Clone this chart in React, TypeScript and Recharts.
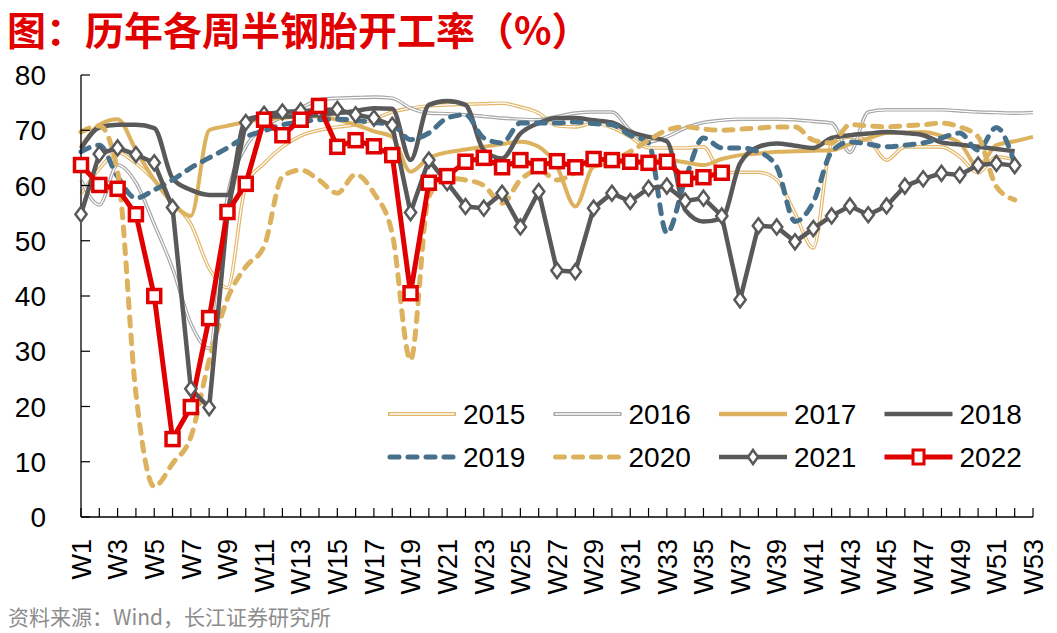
import { Line, LineChart, XAxis, YAxis } from 'recharts';

// Weekly semi-steel tyre operating rate (%).
const WEEKS = [
  'W1', 'W2', 'W3', 'W4', 'W5', 'W6', 'W7', 'W8', 'W9', 'W10',
  'W11', 'W12', 'W13', 'W14', 'W15', 'W16', 'W17', 'W18', 'W19', 'W20',
  'W21', 'W22', 'W23', 'W24', 'W25', 'W26', 'W27', 'W28', 'W29', 'W30',
  'W31', 'W32', 'W33', 'W34', 'W35', 'W36', 'W37', 'W38', 'W39', 'W40',
  'W41', 'W42', 'W43', 'W44', 'W45', 'W46', 'W47', 'W48', 'W49', 'W50',
  'W51', 'W52', 'W53',
];

const Y_TICKS = [0, 10, 20, 30, 40, 50, 60, 70, 80];

const S2015 = [
  58.5, 63, 66, 64, 61, 57, 53, 45, 41.5, 60,
  64, 67, 69, 70, 70.6, 71, 72, 73.3, 74, 74.4,
  74.6, 74.7, 74.8, 74.9, 74.2, 73.1, 70.8, 70.6, 71.3, 70.5,
  68.8, 66.8, 66.8, 66.8, 67, 62.3, 62.4, 62.4, 61, 55,
  48.7, 67.5, 68.8, 68.2, 64.6, 67, 67, 67, 65.2, 62.3,
  65.2, 64.6, null,
];
const S2016 = [
  61, 56.5, 63.7, 60.5, 53, 45, 35, 30.5, 58, 67,
  70.6, 72.4, 74, 75.5, 75.8, 75.9, 76, 75.8, 74, 73.1,
  73, 72.8, 72.5, 72.2, 72, 71.9, 72.5, 73.1, 73.3, 73.3,
  70, 67.9, 68.8, 70.4, 71.4, 71.8, 72, 72, 72, 71.9,
  71.6, 71.3, 66, 73.3, 73.7, 73.7, 73.7, 73.7, 73.5, 73.3,
  73.2, 73.1, 73.2,
];
const S2017 = [
  67, 71, 72, 66.4, 61, 56.8, 54.5, 70, 70.8, 71.5,
  72, 72.2, 72.5, 72.5, 71.9, 71, 69.8, 68.8, 62.5, 65,
  66, 66.5, 67, 67.5, 67.9, 67, 63.4, 56.2, 63.4, 64,
  64.3, 64.5, 64.6, 64.2, 63.7, 64.8, 65.5, 65.8, 66.1, 66.2,
  66.3, 66.4, 67.5, 68.5, 69.5, 69.6, 69.7, 69, 67.7, 63.4,
  67.3, 68, 68.8,
];
const S2018 = [
  66.7, 70.5, 71, 71, 70.4, 61.3, 59.2, 58.3, 58.3, 71.9,
  72.5, 72.5, 72.5, 72.8, 73.1, 73.5, 74, 73.9, 64.6, 74.6,
  75.3, 74.6, 66.4, 64.9, 69.4, 71.3, 72.2, 72.2, 71.8, 71.4,
  69.7, 68.8, 68, 55.6, 53.5, 54, 64, 67, 67.6, 67.2,
  66.8, 68.6, 69.1, 69.4, 69.7, 69.5, 69.1, 67.8, 67.4, 67,
  66.6, 66.2, null,
];
const S2019 = [
  66.1, 67.3, 61.6, 57.7, 59.2, 61, 63.2, 65, 66.8, 68.8,
  69.9, 71, 71.5, 71.9, 72, 71.8, 71.4, 71, 68.3, 69.5,
  72.2, 72.8, 68.6, 67.7, 71.3, 71.3, 71.3, 71.5, 71.2, 71,
  69.1, 67.7, 51.4, 61, 68.6, 66.8, 66.8, 66.1, 63.4, 53.5,
  57, 66.1, 67.9, 67.5, 67, 67.3, 67.7, 68.6, 69.5, 66.4,
  70.5, 64, null,
];
const S2020 = [
  69.7, 70.8, 62.5, 22.4, 5.5, 9.7, 14.5, 28.4, 39.5, 45.3,
  49, 61.6, 62.8, 61, 58.6, 62, 58.6, 51.3, 28.4, 58,
  61.3, 61, 60, 56.8, 61, 62.8, 61, 62.3, 64, 64.6,
  66.1, 68.2, 70, 70.6, 70.2, 70, 70.2, 70.4, 70.6, 70.6,
  68.2, 67.7, 71, 70.8, 70.6, 70.8, 71, 71.3, 70.6, 68.8,
  59.8, 57.4, null,
];
const S2021 = [
  54.8, 65.7, 66.8, 65.6, 64.1, 56, 23.2, 19.8, 55, 71.4,
  72.9, 73.3, 73.5, 73.6, 73.8, 72.8, 72.2, 70.9, 55.1, 64.6,
  60.5, 56.2, 55.9, 58.6, 52.5, 58.9, 44.6, 44.4, 55.9, 58.6,
  57.1, 59.5, 59.9, 57.2, 57.7, 54.5, 39.3, 52.7, 52.5, 49.8,
  52.2, 54.5, 56.3, 54.7, 56.3, 59.9, 61.2, 62.2, 61.9, 63.7,
  64, 63.6, null,
];
const S2022 = [
  63.7, 60.1, 59.4, 54.8, 40, 14.1, 19.9, 36, 55.2, 60.3,
  71.9, 69.1, 71.9, 74.4, 67, 68.2, 67.1, 65.5, 40.5, 60.5,
  61.7, 64.3, 65, 63.3, 64.6, 63.5, 64.4, 63.3, 64.8, 64.6,
  64.3, 64.1, 64.3, 61.2, 61.5, 62.3, null, null, null, null,
  null, null, null, null, null, null, null, null, null, null,
  null, null, null,
];

const GOLD_LIGHT = '#E2B76A';
const GOLD = '#DDB25F';
const GREY = '#A6A6A6';
const DARK = '#595959';
const BLUE = '#46708C';
const RED = '#E00000';
const FONT = '"Liberation Sans", Arial, sans-serif';
const CJK = '"Noto Sans CJK SC", sans-serif';

const data = WEEKS.map((week, i) => ({
  week,
  y2015: S2015[i],
  y2016: S2016[i],
  y2017: S2017[i],
  y2018: S2018[i],
  y2019: S2019[i],
  y2020: S2020[i],
  y2021: S2021[i],
  y2022: S2022[i],
}));

function WeekTick({ x, y, payload }: any) {
  const n = Number(String(payload.value).slice(1));
  return (
    <g>
      <line x1={x} y1={y} x2={x} y2={y - 9} stroke="#000" strokeWidth={1.2} />
      {n % 2 === 1 && (
        <text
          transform={`translate(${x},${y + 22}) rotate(-90)`}
          dy="0.36em"
          textAnchor="end"
          fontSize={27}
          fontFamily={FONT}
          fill="#000"
        >
          {payload.value}
        </text>
      )}
    </g>
  );
}

function ValueTick({ x, y, payload }: any) {
  return (
    <g>
      <line x1={x} y1={y} x2={x + 9} y2={y} stroke="#000" strokeWidth={1.2} />
      <text x={x - 35} y={y} dy="0.36em" textAnchor="end" fontSize={28} fontFamily={FONT} fill="#000">
        {payload.value}
      </text>
    </g>
  );
}

function Diamond({ cx, cy, index }: any) {
  if (cx == null || cy == null) return <g key={`d${index}`} />;
  const r = 7.5;
  return (
    <path
      key={`d${index}`}
      d={`M${cx},${cy - r}L${cx + r * 0.75},${cy}L${cx},${cy + r}L${cx - r * 0.75},${cy}Z`}
      fill="#fff"
      stroke={DARK}
      strokeWidth={2.5}
    />
  );
}

function Square({ cx, cy, index }: any) {
  if (cx == null || cy == null) return <g key={`s${index}`} />;
  return (
    <rect key={`s${index}`} x={cx - 6.5} y={cy - 6.5} width={13} height={13} fill="#fff" stroke={RED} strokeWidth={3.5} />
  );
}

// legend drawn by hand: two rows of four, inside the plot area
const LEGEND = [
  { name: '2015', kind: 'double', color: GOLD_LIGHT },
  { name: '2016', kind: 'double', color: GREY },
  { name: '2017', kind: 'solid', color: GOLD },
  { name: '2018', kind: 'solid', color: DARK },
  { name: '2019', kind: 'dash', color: BLUE },
  { name: '2020', kind: 'dash', color: GOLD },
  { name: '2021', kind: 'diamond', color: DARK },
  { name: '2022', kind: 'square', color: RED },
];

function LegendSample({ kind, color, x, y }: { kind: string; color: string; x: number; y: number }) {
  const x2 = x + 68;
  const mid = x + 34;
  if (kind === 'double') {
    return (
      <g>
        <line x1={x} y1={y} x2={x2} y2={y} stroke={color} strokeWidth={4} />
        <line x1={x + 1.5} y1={y} x2={x2 - 1.5} y2={y} stroke="#fff" strokeWidth={1.3} />
      </g>
    );
  }
  if (kind === 'dash') {
    return (
      <line x1={x + 2} y1={y} x2={x2} y2={y} stroke={color} strokeWidth={5} strokeDasharray="9 9" strokeLinecap="round" />
    );
  }
  if (kind === 'diamond') {
    return (
      <g>
        <line x1={x} y1={y} x2={x2} y2={y} stroke={color} strokeWidth={4.5} />
        <path d={`M${mid},${y - 7}L${mid + 5},${y}L${mid},${y + 7}L${mid - 5},${y}Z`} fill="#fff" stroke={color} strokeWidth={2.5} />
      </g>
    );
  }
  if (kind === 'square') {
    return (
      <g>
        <line x1={x} y1={y} x2={x2} y2={y} stroke={color} strokeWidth={5} />
        <rect x={mid - 5.5} y={y - 7} width={11} height={14} fill="#fff" stroke={color} strokeWidth={3} />
      </g>
    );
  }
  return <line x1={x} y1={y} x2={x2} y2={y} stroke={color} strokeWidth={4.5} />;
}

export default function App() {
  return (
    <div style={{ position: 'absolute', left: 0, top: 0, width: 1057, height: 633, background: '#fff' }}>
      <div style={{ position: 'absolute', left: 0, top: 0 }}>
        <LineChart width={1057} height={633} data={data} margin={{ top: 75, right: 24, bottom: 26, left: 21 }}>
          <XAxis
            dataKey="week"
            scale="point"
            interval={0}
            height={90}
            tickSize={0}
            tickMargin={0}
            tickLine={false}
            tick={<WeekTick />}
            axisLine={{ stroke: '#000', strokeWidth: 1.3 }}
          />
          <YAxis
            domain={[0, 80]}
            ticks={Y_TICKS}
            interval={0}
            width={60}
            tickSize={0}
            tickMargin={0}
            tickLine={false}
            tick={<ValueTick />}
            axisLine={{ stroke: '#000', strokeWidth: 1.3 }}
          />
          <Line type="monotone" dataKey="y2015" stroke={GOLD_LIGHT} strokeWidth={3.6} dot={false} isAnimationActive={false} />
          <Line type="monotone" dataKey="y2015" name="2015 inner" stroke="#fff" strokeWidth={1.2} dot={false} isAnimationActive={false} />
          <Line type="monotone" dataKey="y2016" stroke={GREY} strokeWidth={3.6} dot={false} isAnimationActive={false} />
          <Line type="monotone" dataKey="y2016" name="2016 inner" stroke="#fff" strokeWidth={1.2} dot={false} isAnimationActive={false} />
          <Line type="monotone" dataKey="y2017" stroke={GOLD} strokeWidth={4} dot={false} isAnimationActive={false} />
          <Line type="monotone" dataKey="y2018" stroke={DARK} strokeWidth={4.5} dot={false} isAnimationActive={false} />
          <Line
            type="monotone"
            dataKey="y2019"
            stroke={BLUE}
            strokeWidth={5}
            strokeDasharray="9 9"
            strokeLinecap="round"
            dot={false}
            isAnimationActive={false}
          />
          <Line
            type="monotone"
            dataKey="y2020"
            stroke={GOLD}
            strokeWidth={5}
            strokeDasharray="9 9"
            strokeLinecap="round"
            dot={false}
            isAnimationActive={false}
          />
          <Line type="linear" dataKey="y2021" stroke={DARK} strokeWidth={4.5} dot={Diamond} isAnimationActive={false} />
          <Line type="linear" dataKey="y2022" stroke={RED} strokeWidth={5} dot={Square} isAnimationActive={false} />
        </LineChart>
      </div>

      <svg width={1057} height={633} style={{ position: 'absolute', left: 0, top: 0, pointerEvents: 'none' }}>
        <text x={7} y={45} fontFamily={CJK} fontWeight={700} fontSize={39} fill={RED}>
          图：历年各周半钢胎开工率（%）
        </text>
        {LEGEND.map((item, i) => {
          const col = i % 4;
          const row = Math.floor(i / 4);
          const x = 388 + col * 165.5;
          const y = 414 + row * 43;
          return (
            <g key={item.name}>
              <LegendSample kind={item.kind} color={item.color} x={x} y={y} />
              <text x={x + 75} y={y} dy="0.36em" fontSize={28} fontFamily={FONT} fill="#000">
                {item.name}
              </text>
            </g>
          );
        })}
        <text x={8} y={625} fontFamily={CJK} fontSize={21} fill="#8C8C8C">
          资料来源：Wind，长江证券研究所
        </text>
      </svg>
    </div>
  );
}
